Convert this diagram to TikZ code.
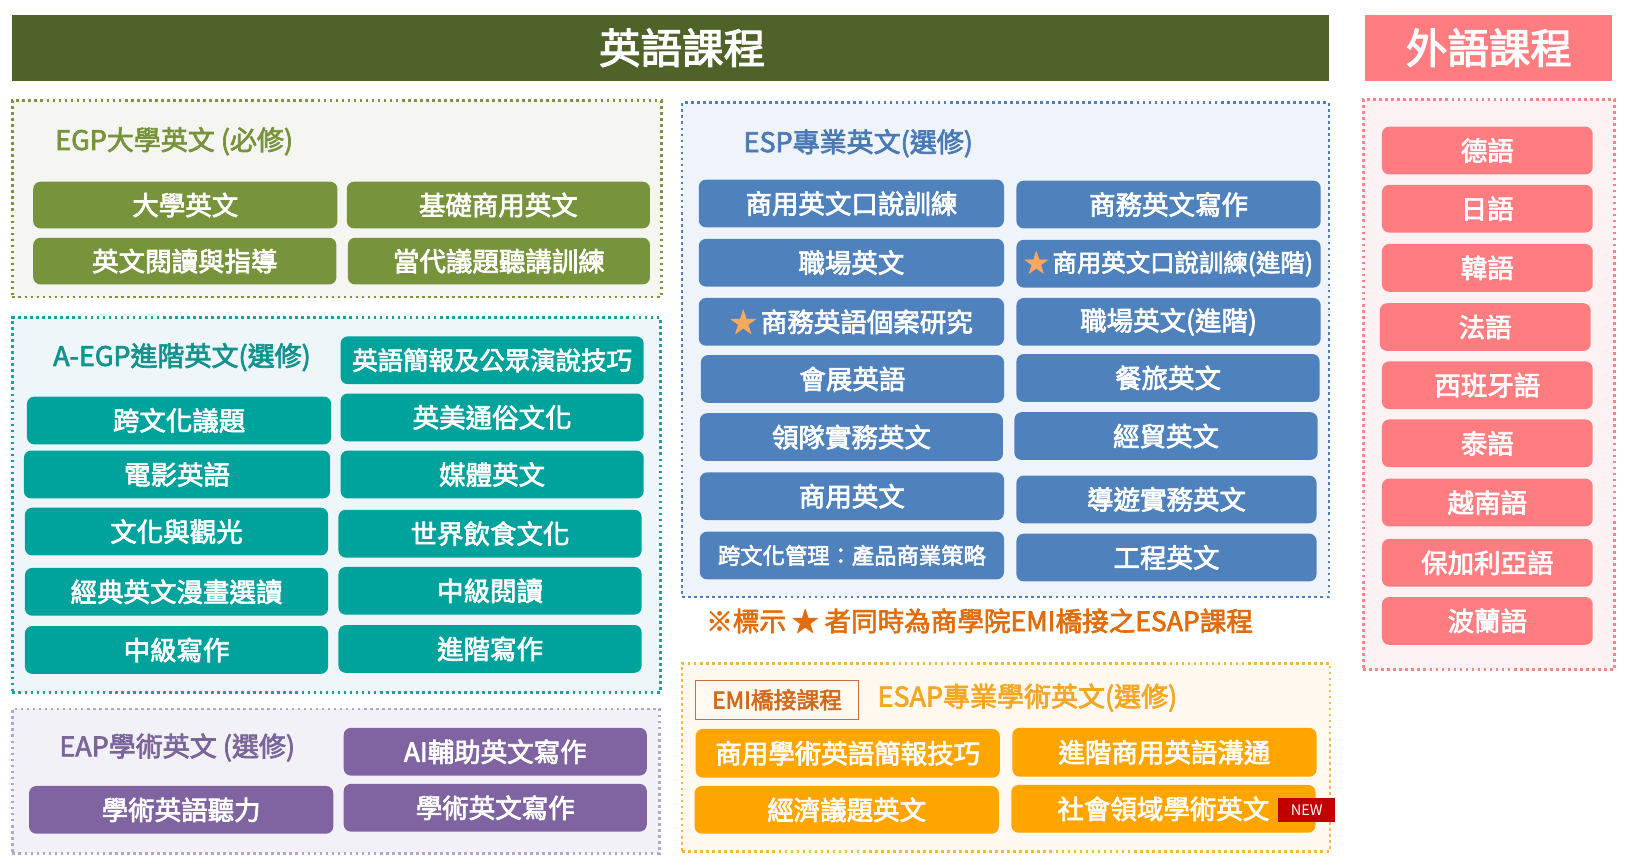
\documentclass[tikz,border=0pt]{standalone}
\usepackage{fontspec}
\setmainfont{Noto Sans CJK TC}
\newfontfamily\medfont{Noto Sans CJK TC}[FakeBold=2.6]
\definecolor{hdrG}{HTML}{4F6228}
\definecolor{hdrP}{HTML}{FF7C80}
\definecolor{egpI}{HTML}{77933C}
\definecolor{egpB}{HTML}{7F9440}
\definecolor{egpF}{HTML}{F5F6F1}
\definecolor{tealI}{HTML}{00A29C}
\definecolor{tealT}{HTML}{12938E}
\definecolor{tealB}{HTML}{16A39B}
\definecolor{tealF}{HTML}{EEF6F9}
\definecolor{purI}{HTML}{8064A2}
\definecolor{purT}{HTML}{7A6699}
\definecolor{purB}{HTML}{B2A6CA}
\definecolor{purF}{HTML}{F3F1F8}
\definecolor{bluI}{HTML}{4F81BD}
\definecolor{bluT}{HTML}{4A7AB5}
\definecolor{bluB}{HTML}{4F7FBF}
\definecolor{bluF}{HTML}{EFF3FA}
\definecolor{orgI}{HTML}{FFA500}
\definecolor{orgT}{HTML}{F5A623}
\definecolor{orgB}{HTML}{F4B73A}
\definecolor{orgF}{HTML}{FFF9EF}
\definecolor{noteC}{HTML}{E36C0A}
\definecolor{emiB}{HTML}{C8703F}
\definecolor{emiT}{HTML}{D2691E}
\definecolor{newR}{HTML}{C00000}
\definecolor{pinkB}{HTML}{F4878A}
\definecolor{pinkF}{HTML}{FDF2F3}
\definecolor{starC}{HTML}{F8A95E}
\tikzset{
  item/.style={rounded corners=7pt, text=white, font=\medfont\fontsize{25.5}{30}\selectfont, inner sep=0pt, draw=none},
  frame/.style={line width=2.6pt, dash pattern=on 2.6pt off 3.2pt, inner sep=0pt},
  ttl/.style={font=\medfont\fontsize{26}{31}\selectfont, inner sep=0pt, anchor=west},
  hdr/.style={text=white, font=\medfont\fontsize{40}{46}\selectfont, inner sep=0pt},
}
\newcommand\crsbox[7]{\node[item, fill=#6, minimum width={(#4)-(#2)}, minimum height={(#5)-(#3)}] (#1) at ({((#2)+(#4))/2},{((#3)+(#5))/2}) {#7};}
\newcommand\crsframe[7]{\node[frame, draw=#6, fill=#7, minimum width={(#4)-(#2)}, minimum height={(#5)-(#3)}] (#1) at ({((#2)+(#4))/2},{((#3)+(#5))/2}) {};}
\newcommand\st{{\color{starC}★}\,}
\begin{document}
\begin{tikzpicture}[x=1pt,y=-1pt]
\useasboundingbox (0,0) rectangle (1568,833);
\fill[white] (0,0) rectangle (1568,833);
% headers
\node[fill=hdrG, minimum width=1268, minimum height=64, inner sep=0pt] (hdrL) at (646,46) {};
\node[hdr] (hdrLt) at ([xshift=11pt]hdrL.center) {英語課程};
\node[fill=hdrP, minimum width=238, minimum height=64, inner sep=0pt] (hdrR) at (1434,46) {};
\node[hdr] (hdrRt) at (hdrR.center) {外語課程};
% frames
\crsframe{egp}{12}{97}{637}{286}{egpB}{egpF}
\crsframe{aegp}{12}{306}{636}{667}{tealB}{tealF}
\crsframe{eap}{12}{683}{635}{822}{purB}{purF}
\crsframe{esp}{657}{99}{1280}{575}{bluB}{bluF}
\crsframe{esap}{657}{639}{1281}{820}{orgB}{orgF}
\crsframe{fl}{1313}{96}{1555}{645}{pinkB}{pinkF}
% titles
\node[ttl, text=egpI] (egpT) at (53,136) {EGP大學英文 (必修)};
\node[ttl, text=tealT] (aegpT) at (51,344) {A-EGP進階英文(選修)};
\node[ttl, text=purT] (eapT) at (57,720) {EAP學術英文 (選修)};
\node[ttl, text=bluT] (espT) at (716,138) {ESP專業英文(選修)};
\node[ttl, text=orgT] (esapT) at (845,672) {ESAP專業學術英文(選修)};
\node[ttl, text=noteC, font=\medfont\fontsize{25.6}{30}\selectfont] (note) at (680,598) {※標示 ★ 者同時為商學院EMI橋接之ESAP課程};
\node[draw=emiB, line width=1pt, text=emiT, font=\medfont\fontsize{22}{26}\selectfont, minimum width=157, minimum height=38, inner sep=0pt] (emi) at (748.5,674) {EMI橋接課程};
% EGP
\crsbox{e1}{32}{175}{325}{220}{egpI}{大學英文}
\crsbox{e2}{334}{175}{626}{220}{egpI}{基礎商用英文}
\crsbox{e3}{32}{229}{324}{274}{egpI}{英文閱讀與指導}
\crsbox{e4}{335}{229}{626}{274}{egpI}{當代議題聽講訓練}
% A-EGP
\crsbox{a0}{328}{324}{620}{370}{tealI}{\fontsize{24.5}{29}\selectfont 英語簡報及公眾演說技巧}
\crsbox{a1}{26}{382}{319}{428}{tealI}{跨文化議題}
\crsbox{a2}{328}{379}{620}{425}{tealI}{英美通俗文化}
\crsbox{a3}{23}{434}{318}{480}{tealI}{電影英語}
\crsbox{a4}{328}{434}{620}{480}{tealI}{媒體英文}
\crsbox{a5}{24}{489}{316}{535}{tealI}{文化與觀光}
\crsbox{a6}{326}{491}{618}{537}{tealI}{世界飲食文化}
\crsbox{a7}{24}{547}{316}{593}{tealI}{經典英文漫畫選讀}
\crsbox{a8}{326}{546}{618}{592}{tealI}{中級閱讀}
\crsbox{a9}{24}{603}{316}{649}{tealI}{中級寫作}
\crsbox{a10}{326}{602}{618}{648}{tealI}{進階寫作}
% EAP
\crsbox{p1}{331}{701}{623}{747}{purI}{AI輔助英文寫作}
\crsbox{p2}{28}{757}{321}{803}{purI}{學術英語聽力}
\crsbox{p3}{331}{755}{623}{801}{purI}{學術英文寫作}
% ESP
\crsbox{s1}{673}{173}{967}{219}{bluI}{商用英文口說訓練}
\crsbox{s2}{979}{174}{1272}{220}{bluI}{商務英文寫作}
\crsbox{s3}{673}{230}{967}{276}{bluI}{職場英文}
\crsbox{s4}{979}{231}{1272}{277}{bluI}{\fontsize{23.5}{28}\selectfont\st 商用英文口說訓練(進階)}
\crsbox{s5}{673}{287}{967}{333}{bluI}{\st 商務英語個案研究}
\crsbox{s6}{979}{287}{1272}{333}{bluI}{職場英文(進階)}
\crsbox{s7}{675}{342}{967}{388}{bluI}{會展英語}
\crsbox{s8}{979}{341}{1271}{387}{bluI}{餐旅英文}
\crsbox{s9}{674}{398}{966}{444}{bluI}{領隊實務英文}
\crsbox{s10}{977}{397}{1269}{443}{bluI}{經貿英文}
\crsbox{s11}{674}{455}{967}{501}{bluI}{商用英文}
\crsbox{s12}{979}{458}{1268}{504}{bluI}{導遊實務英文}
\crsbox{s13}{674}{512}{967}{558}{bluI}{\fontsize{21.5}{25}\selectfont 跨文化管理：產品商業策略}
\crsbox{s14}{979}{514}{1268}{560}{bluI}{工程英文}
% ESAP
\crsbox{o1}{670}{702}{963}{749}{orgI}{商用學術英語簡報技巧}
\crsbox{o2}{975}{701}{1268}{748}{orgI}{進階商用英語溝通}
\crsbox{o3}{669}{757}{962}{803}{orgI}{經濟議題英文}
\crsbox{o4}{974}{756}{1267}{802}{orgI}{社會領域學術英文}
\node[fill=newR, text=white, font=\fontsize{14}{16}\selectfont, minimum width=55, minimum height=23, inner sep=0pt] (new) at (1258.5,780.5) {NEW};
% foreign languages
\crsbox{f1}{1331}{122}{1534}{168}{hdrP}{德語}
\crsbox{f2}{1331}{178}{1534}{224}{hdrP}{日語}
\crsbox{f3}{1331}{235}{1534}{281}{hdrP}{韓語}
\crsbox{f4}{1329}{292}{1532}{338}{hdrP}{法語}
\crsbox{f5}{1331}{348}{1534}{394}{hdrP}{西班牙語}
\crsbox{f6}{1331}{404}{1534}{450}{hdrP}{泰語}
\crsbox{f7}{1331}{461}{1534}{507}{hdrP}{越南語}
\crsbox{f8}{1331}{519}{1534}{565}{hdrP}{保加利亞語}
\crsbox{f9}{1331}{575}{1534}{621}{hdrP}{波蘭語}
\end{tikzpicture}
\end{document}
